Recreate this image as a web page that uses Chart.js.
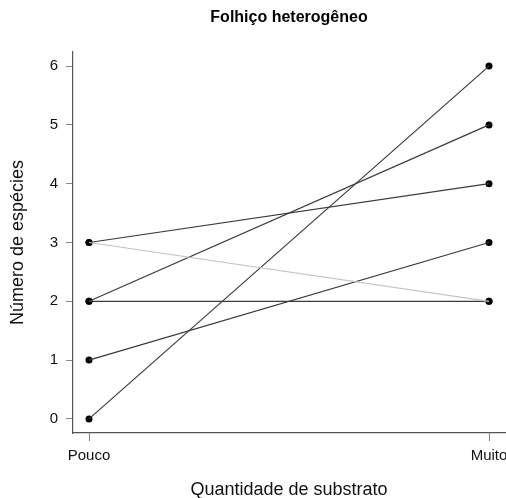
<!DOCTYPE html>
<html>
<head>
<meta charset="utf-8">
<script src="https://cdn.jsdelivr.net/npm/chart.js@4/dist/chart.umd.min.js"></script>
<style>
html,body{margin:0;padding:0;background:#fff;}
#wrap{width:506px;height:498px;}
</style>
</head>
<body>
<div id="wrap"><canvas id="c" width="506" height="498"></canvas></div>
<script>
const categories = ['Pouco', 'Muito'];
const poucoValues = [0, 1, 2, 2, 3, 3];
const muitoValues = [6, 3, 5, 2, 4, 2];
const lineColors = ['#3a3a3a', '#3a3a3a', '#3a3a3a', '#3a3a3a', '#3a3a3a', '#c4c4c4'];
const yTickValues = [0, 1, 2, 3, 4, 5, 6];
const titleText = 'Folhiço heterogêneo';
const xTitle = 'Quantidade de substrato';
const yTitle = 'Número de espécies';

const FONT = '"Liberation Sans", Arial, Helvetica, sans-serif';

// light series drawn first (underneath)
const order = poucoValues.map((_, i) => i).sort((a, b) => (lineColors[b] === '#c4c4c4') - (lineColors[a] === '#c4c4c4'));
const datasets = order.map(i => ({
  data: [{x: 0, y: poucoValues[i]}, {x: 1, y: muitoValues[i]}],
  borderColor: lineColors[i],
  borderWidth: 1.2,
  pointRadius: 0,
  showLine: true,
  fill: false,
  tension: 0
}));
// points on top of all lines
datasets.push({
  data: poucoValues.map(v => ({x: 0, y: v})).concat(muitoValues.map(v => ({x: 1, y: v}))),
  showLine: false,
  pointRadius: 3.5,
  pointBackgroundColor: '#000',
  pointBorderWidth: 0,
  borderColor: '#000'
});

const titlePlugin = {
  id: 'mainTitle',
  afterDraw(chart) {
    const ctx = chart.ctx;
    ctx.save();
    ctx.font = 'bold 16px ' + FONT;
    ctx.fillStyle = '#000';
    ctx.textAlign = 'center';
    ctx.textBaseline = 'middle';
    const a = chart.chartArea;
    ctx.fillText(titleText, (a.left + a.right) / 2, 18);
    ctx.restore();
  }
};

new Chart(document.getElementById('c'), {
  type: 'line',
  data: { datasets },
  plugins: [titlePlugin],
  options: {
    responsive: false,
    animation: false,
    layout: { autoPadding: false, padding: { top: 52, right: 1, left: 0, bottom: 0 } },
    plugins: { legend: { display: false }, tooltip: { enabled: false }, title: { display: false } },
    scales: {
      x: {
        type: 'linear',
        min: -0.04,
        max: 1.04,
        afterBuildTicks: s => { s.ticks = [0, 1].map(v => ({ value: v })); },
        afterFit: s => { s.height = 65; s.paddingLeft = 0; s.paddingRight = 0; },
        ticks: {
          callback: v => categories[v],
          autoSkip: false,
          maxRotation: 0,
          padding: 6,
          color: '#111',
          font: { family: FONT, size: 15 }
        },
        grid: { display: true, drawOnChartArea: false, drawTicks: true, tickLength: 8, color: '#888' },
        border: { display: true, color: '#555', width: 1.2 },
        title: {
          display: true,
          text: xTitle,
          color: '#111',
          font: { family: FONT, size: 18, lineHeight: 1 },
          padding: { top: 0, bottom: -1 }
        }
      },
      y: {
        type: 'linear',
        min: -0.24,
        max: 6.24,
        afterBuildTicks: s => { s.ticks = yTickValues.map(v => ({ value: v })); },
        afterFit: s => { s.width = 73; s.paddingTop = 0; s.paddingBottom = 0; },
        ticks: {
          callback: v => String(v),
          padding: 8,
          color: '#111',
          font: { family: FONT, size: 15 }
        },
        grid: { display: true, drawOnChartArea: false, drawTicks: true, tickLength: 7, color: '#888' },
        border: { display: true, color: '#555', width: 1.2 },
        title: {
          display: true,
          text: yTitle,
          color: '#111',
          font: { family: FONT, size: 18, lineHeight: 1 },
          padding: { top: 9, bottom: 0 }
        }
      }
    }
  }
});
</script>
</body>
</html>
